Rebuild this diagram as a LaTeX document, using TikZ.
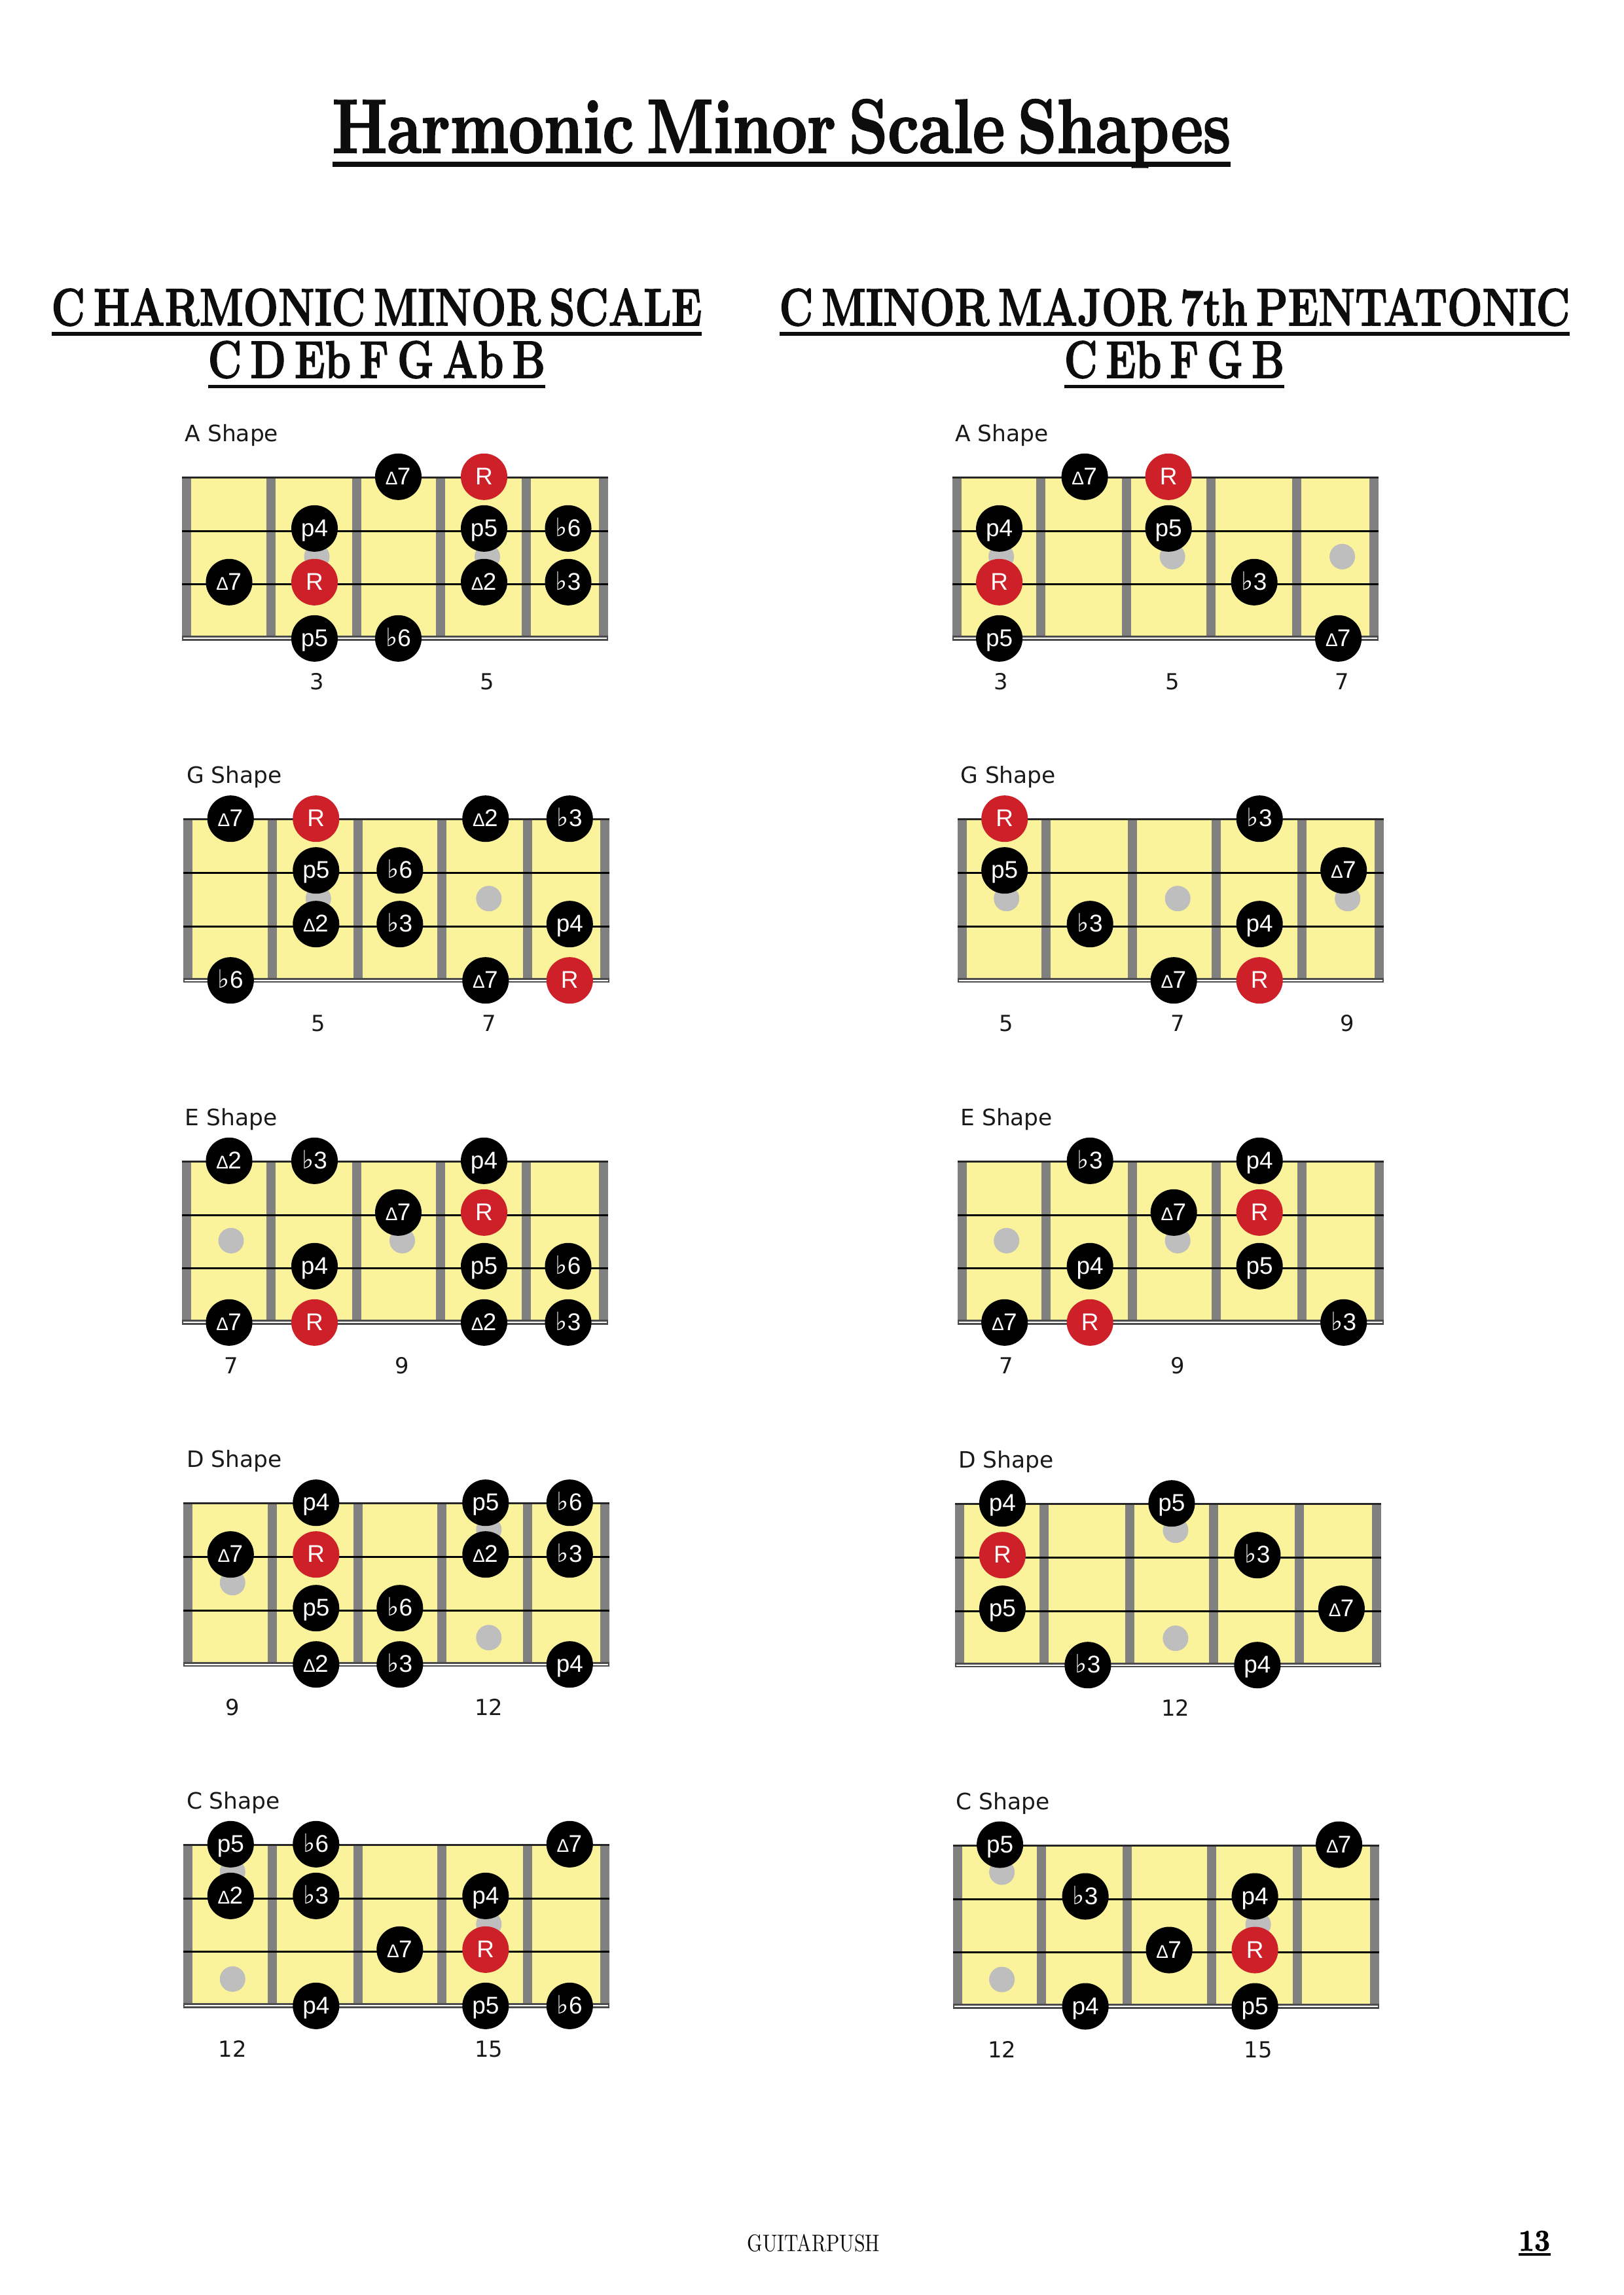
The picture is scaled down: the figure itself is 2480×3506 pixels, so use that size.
\documentclass[tikz,border=0pt]{standalone}
\usepackage{fontspec}
\usepackage{graphicx}
\newfontfamily\nf{Liberation Sans}
\newfontfamily\dvfont{DejaVu Sans}
\newfontfamily\hf{Latin Modern Roman}[WordSpace=0.55,BoldFeatures={FakeBold=2.2}]
\definecolor{yel}{RGB}{251,243,155}
\definecolor{fretg}{RGB}{128,128,128}
\definecolor{inlay}{RGB}{190,190,190}
\definecolor{rootred}{RGB}{205,32,41}
\tikzset{
  x=0.01cm,y=-0.01cm,
  notebase/.style={circle,inner sep=0pt,minimum size=0.71cm,text=white,
     font=\nf\fontsize{10.5}{10.5}\selectfont,text height=0.26cm,text depth=0.02cm},
  blacknote/.style={notebase,fill=black},
  rootnote/.style={notebase,fill=rootred},
  labeltxt/.style={anchor=base west,inner sep=0pt,font=\dvfont\fontsize{9.8}{9.8}\selectfont,text=black!90},
  fretnum/.style={anchor=base,inner sep=0pt,font=\dvfont\fontsize{9.6}{9.6}\selectfont,text=black!90},
  headtxt/.style={anchor=base,inner sep=0pt,text=black!95,font=\hf\bfseries\fontsize{22.8}{22.8}\selectfont},
  titletxt/.style={anchor=base,inner sep=0pt,text=black!95,font=\hf\bfseries\fontsize{33}{33}\selectfont},
  rule/.style={fill=black!95}
}
\newcommand\mj{{\fontsize{8}{8}\selectfont ∆}}
\newcommand\fl{{\dvfont\fontsize{11}{10}\selectfont ♭}}
\def\colx{{72,202.5,330.5,461.5,590}}
\def\rowy{{-1,78,160,246}}
\def\numx{{75,206,336.5,466.5,596}}
% #1 column, #2 row, #3 text
\newcommand\bn[3]{\pgfmathsetmacro\cxx{\colx[#1]}\pgfmathsetmacro\cyy{\rowy[#2]}%
  \node[blacknote] (\bname-#1-#2) at (\cxx,\cyy) {#3};}
\newcommand\rn[2]{\pgfmathsetmacro\cxx{\colx[#1]}\pgfmathsetmacro\cyy{\rowy[#2]}%
  \node[rootnote] (\bname-#1-#2) at (\cxx,\cyy) {R};}
% #1 col, #2 y
\newcommand\inl[2]{\pgfmathsetmacro\cxx{\numx[#1]}\fill[inlay] (\cxx,#2) circle (19.5);}
\newcommand\fnum[2]{\pgfmathsetmacro\cxx{\numx[#1]}\node[fretnum] (\bname-num-#1) at (\cxx,324) {#2};}
% #1 name, #2 left, #3 top, #4 label, #5 inlays, #6 fret numbers, #7 notes
\newcommand\board[7]{%
 \begin{scope}[shift={(#2,#3)}]
  \def\bname{#1}
  \fill[yel] (0,0) rectangle (651,245);
  \foreach \fx in {7,135.7,266.8,395,526,644}{\fill[fretg] (\fx-7,0) rectangle (\fx+7,245);}
  \fill[black!85] (0,-1.5) rectangle (651,1.5);
  \fill[black] (0,80.5) rectangle (651,83.5);
  \fill[black] (0,162) rectangle (651,165);
  \fill[black!70] (0,242) rectangle (651,249.5);
  \fill[white] (2,245) rectangle (649,247);
  #5
  #7
  #6
  \node[labeltxt] (\bname-label) at (4,-55) {#4};
 \end{scope}}
\begin{document}
\begin{tikzpicture}
\useasboundingbox (0,0) rectangle (2480,3506);
\fill[white] (0,0) rectangle (2480,3506);
% title
\node[titletxt] (title) at (1194,233) {\resizebox{13.72cm}{\height}{Harmonic Minor Scale Shapes}};
\fill[rule] (508,247) rectangle (1880,255);
\node[headtxt] (h1) at (575.5,497) {\resizebox{9.93cm}{\height}{C HARMONIC MINOR SCALE}};
\fill[rule] (79,507) rectangle (1072,513);
\node[headtxt] (h1b) at (575.5,577) {\resizebox{5.15cm}{\height}{C D Eb F G Ab B}};
\fill[rule] (318,588) rectangle (833,593);
\node[headtxt] (h2) at (1794.5,497) {\resizebox{12.07cm}{\height}{C MINOR MAJOR 7th PENTATONIC}};
\fill[rule] (1191,507) rectangle (2398,513);
\node[headtxt] (h2b) at (1794,577) {\resizebox{3.36cm}{\height}{C Eb F G B}};
\fill[rule] (1626,588) rectangle (1962,593);
% left column
\board{LA}{278}{729.3}{A Shape}{\inl{1}{121}\inl{3}{121}}{\fnum{1}{3}\fnum{3}{5}}{%
 \bn{2}{0}{\mj7}\rn{3}{0}\bn{1}{1}{p4}\bn{3}{1}{p5}\bn{4}{1}{\fl6}\bn{0}{2}{\mj7}\rn{1}{2}\bn{3}{2}{\mj2}\bn{4}{2}{\fl3}\bn{1}{3}{p5}\bn{2}{3}{\fl6}}
\board{LG}{280.3}{1251.7}{G Shape}{\inl{1}{121}\inl{3}{121}}{\fnum{1}{5}\fnum{3}{7}}{%
 \bn{0}{0}{\mj7}\rn{1}{0}\bn{3}{0}{\mj2}\bn{4}{0}{\fl3}\bn{1}{1}{p5}\bn{2}{1}{\fl6}\bn{1}{2}{\mj2}\bn{2}{2}{\fl3}\bn{4}{2}{p4}\bn{0}{3}{\fl6}\bn{3}{3}{\mj7}\rn{4}{3}}
\board{LE}{278}{1774.3}{E Shape}{\inl{0}{121}\inl{2}{121}}{\fnum{0}{7}\fnum{2}{9}}{%
 \bn{0}{0}{\mj2}\bn{1}{0}{\fl3}\bn{3}{0}{p4}\bn{2}{1}{\mj7}\rn{3}{1}\bn{1}{2}{p4}\bn{3}{2}{p5}\bn{4}{2}{\fl6}\bn{0}{3}{\mj7}\rn{1}{3}\bn{3}{3}{\mj2}\bn{4}{3}{\fl3}}
\board{LD}{280.3}{2296.7}{D Shape}{\inl{0}{121}\inl{3}{40}\inl{3}{205}}{\fnum{0}{9}\fnum{3}{12}}{%
 \bn{1}{0}{p4}\bn{3}{0}{p5}\bn{4}{0}{\fl6}\bn{0}{1}{\mj7}\rn{1}{1}\bn{3}{1}{\mj2}\bn{4}{1}{\fl3}\bn{1}{2}{p5}\bn{2}{2}{\fl6}\bn{1}{3}{\mj2}\bn{2}{3}{\fl3}\bn{4}{3}{p4}}
\board{LC}{280.3}{2818.3}{C Shape}{\inl{0}{41}\inl{0}{205}\inl{3}{121}}{\fnum{0}{12}\fnum{3}{15}}{%
 \bn{0}{0}{p5}\bn{1}{0}{\fl6}\bn{4}{0}{\mj7}\bn{0}{1}{\mj2}\bn{1}{1}{\fl3}\bn{3}{1}{p4}\bn{2}{2}{\mj7}\rn{3}{2}\bn{1}{3}{p4}\bn{3}{3}{p5}\bn{4}{3}{\fl6}}
% right column
\board{RA}{1454.6}{729.3}{A Shape}{\inl{0}{121}\inl{2}{121}\inl{4}{121}}{\fnum{0}{3}\fnum{2}{5}\fnum{4}{7}}{%
 \bn{1}{0}{\mj7}\rn{2}{0}\bn{0}{1}{p4}\bn{2}{1}{p5}\rn{0}{2}\bn{3}{2}{\fl3}\bn{0}{3}{p5}\bn{4}{3}{\mj7}}
\board{RG}{1462.7}{1251.7}{G Shape}{\inl{0}{121}\inl{2}{121}\inl{4}{121}}{\fnum{0}{5}\fnum{2}{7}\fnum{4}{9}}{%
 \rn{0}{0}\bn{3}{0}{\fl3}\bn{0}{1}{p5}\bn{4}{1}{\mj7}\bn{1}{2}{\fl3}\bn{3}{2}{p4}\bn{2}{3}{\mj7}\rn{3}{3}}
\board{RE}{1462.7}{1774.3}{E Shape}{\inl{0}{121}\inl{2}{121}}{\fnum{0}{7}\fnum{2}{9}}{%
 \bn{1}{0}{\fl3}\bn{3}{0}{p4}\bn{2}{1}{\mj7}\rn{3}{1}\bn{1}{2}{p4}\bn{3}{2}{p5}\bn{0}{3}{\mj7}\rn{1}{3}\bn{4}{3}{\fl3}}
\board{RD}{1459.4}{2297.7}{D Shape}{\inl{2}{40}\inl{2}{205}}{\fnum{2}{12}}{%
 \bn{0}{0}{p4}\bn{2}{0}{p5}\rn{0}{1}\bn{3}{1}{\fl3}\bn{0}{2}{p5}\bn{4}{2}{\mj7}\bn{1}{3}{\fl3}\bn{3}{3}{p4}}
\board{RC}{1455.6}{2819}{C Shape}{\inl{0}{41}\inl{0}{205}\inl{3}{121}}{\fnum{0}{12}\fnum{3}{15}}{%
 \bn{0}{0}{p5}\bn{4}{0}{\mj7}\bn{1}{1}{\fl3}\bn{3}{1}{p4}\bn{2}{2}{\mj7}\rn{3}{2}\bn{1}{3}{p4}\bn{3}{3}{p5}}
% footer
\node[anchor=base,inner sep=0pt,text=black!95,font=\fontsize{10.4}{10.4}\selectfont] (foot) at (1243,3439) {\resizebox{2.02cm}{\height}{GUITARPUSH}};
\node[anchor=base,inner sep=0pt,text=black,font=\hf\bfseries\fontsize{13}{13}\selectfont] (page) at (2344,3438) {\resizebox{0.48cm}{\height}{13}};
\fill[rule] (2320,3442) rectangle (2369,3446);
\end{tikzpicture}
\end{document}
